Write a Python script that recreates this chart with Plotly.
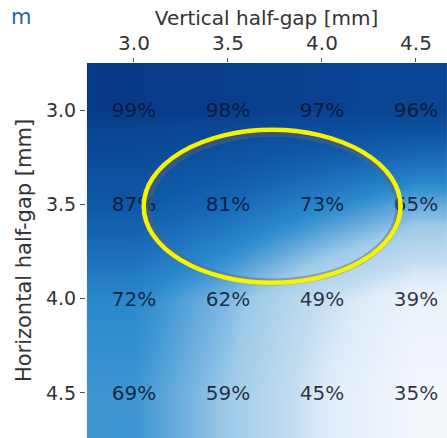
import plotly.graph_objects as go

# Transmission efficiency map over the two collimator half-gaps
vertical_gap = [3.0, 3.5, 4.0, 4.5]      # columns, mm
horizontal_gap = [3.0, 3.5, 4.0, 4.5]    # rows, mm
efficiency = [
    [99, 98, 97, 96],
    [87, 81, 73, 65],
    [72, 62, 49, 39],
    [69, 59, 45, 35],
]
tick_labels = ["3.0", "3.5", "4.0", "4.5"]

# Highlighted working region (centre and semi-axes, mm)
region_center = (3.735, 3.51)
region_semi = (0.683, 0.406)

font_family = "DejaVu Sans"

# Saturated blue ramp, white at low efficiency to navy at high
blue_ramp = [
    [0.000, "#f5f8fd"],
    [0.156, "#deebf7"],
    [0.219, "#c6def0"],
    [0.375, "#9ecbe8"],
    [0.422, "#80b9e2"],
    [0.531, "#3d95d2"],
    [0.578, "#2a88ca"],
    [0.719, "#1768b6"],
    [0.813, "#0e58a6"],
    [0.953, "#0a4593"],
    [1.000, "#083a88"],
]

fig = go.Figure()

fig.add_trace(go.Heatmap(
    x=vertical_gap,
    y=horizontal_gap,
    z=efficiency,
    colorscale=blue_ramp,
    zmin=35,
    zmax=99,
    zsmooth="best",
    showscale=False,
    text=[[f"{v}%" for v in row] for row in efficiency],
    texttemplate="%{text}",
    textfont=dict(family=font_family, size=20, color="rgba(12,18,40,0.85)"),
    hoverinfo="skip",
))

cx, cy = region_center
ax_, ay_ = region_semi
# soft grey halo just inside the outline
fig.add_shape(type="circle", xref="x", yref="y",
              x0=cx - ax_ + 0.02, x1=cx + ax_ - 0.01,
              y0=cy - ay_ + 0.02, y1=cy + ay_ - 0.005,
              line=dict(color="rgba(95,100,110,0.45)", width=7))
fig.add_shape(type="circle", xref="x", yref="y",
              x0=cx - ax_, x1=cx + ax_, y0=cy - ay_, y1=cy + ay_,
              line=dict(color="#f5f500", width=4.5))

fig.add_annotation(text="m", xref="paper", yref="paper",
                   x=-65 / 361, y=1 + 46 / 375, xanchor="center", yanchor="middle",
                   showarrow=False,
                   font=dict(family=font_family, size=21, color="#2466b0"))

fig.update_layout(
    width=447,
    height=438,
    margin=dict(l=86, r=0, t=63, b=0),
    paper_bgcolor="white",
    plot_bgcolor="white",
    font=dict(family=font_family, color="#333333"),
    xaxis=dict(
        side="top",
        range=[2.745, 4.665],
        tickvals=vertical_gap,
        ticktext=tick_labels,
        ticks="outside",
        ticklen=4,
        tickcolor="#555555",
        tickfont=dict(size=20, color="#333333"),
        title=dict(text="Vertical half-gap [mm]", font=dict(size=20, color="#333333"), standoff=0),
        showgrid=False,
        zeroline=False,
    ),
    yaxis=dict(
        range=[4.739, 2.75],
        tickvals=horizontal_gap,
        ticktext=tick_labels,
        ticks="outside",
        ticklen=5,
        tickcolor="#555555",
        tickfont=dict(size=19, color="#333333"),
        title=dict(text="Horizontal half-gap [mm]", font=dict(size=21, color="#333333"), standoff=8),
        showgrid=False,
        zeroline=False,
    ),
)

fig.write_html("out.html")
